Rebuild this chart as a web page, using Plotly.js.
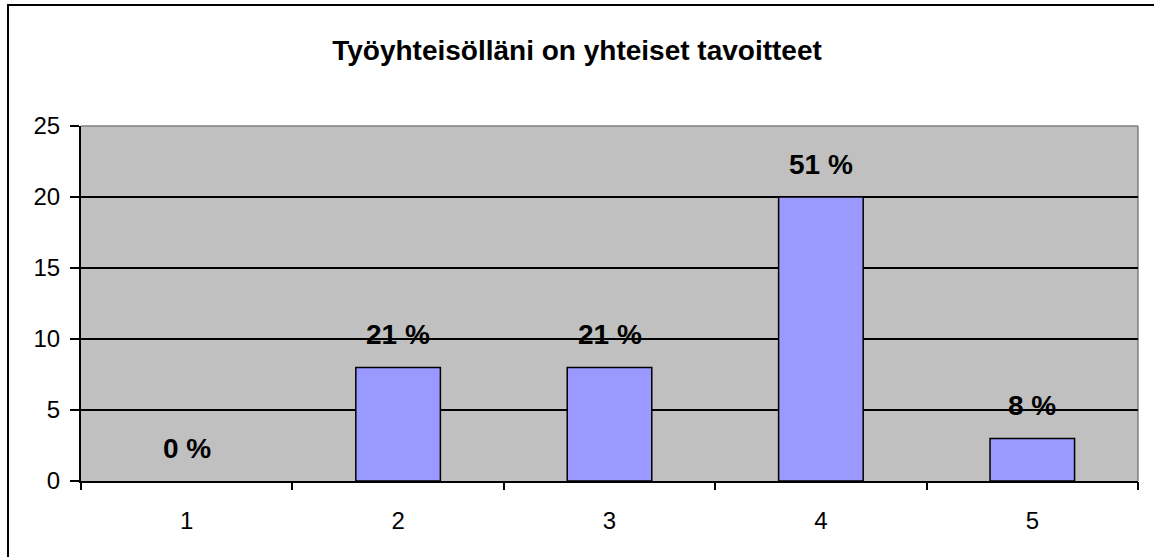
<!DOCTYPE html>
<html>
<head>
<meta charset="utf-8">
<script src="https://cdn.plot.ly/plotly-3.0.1.min.js"></script>
<style>
  html, body { margin: 0; padding: 0; background: #fff; }
  #wrap { position: relative; width: 1154px; height: 557px; overflow: hidden; }
  #chart { position: absolute; left: 0; top: 0; width: 1154px; height: 557px; }
  #frame { position: absolute; left: 7px; top: 4px; width: 1200px; height: 600px;
           border: 2px solid #000; pointer-events: none; }
</style>
</head>
<body>
<div id="wrap">
  <div id="chart"></div>
  <div id="frame"></div>
</div>
<script>
const categories = ["1", "2", "3", "4", "5"];
const counts = [0, 8, 8, 20, 3];
const percentLabels = ["0 %", "21 %", "21 %", "51 %", "8 %"];
const titleText = "Työyhteisölläni on yhteiset tavoitteet";
const catPositions = [1, 2, 3, 4, 5];
const boundaryTicks = [0.5, 1.5, 2.5, 3.5, 4.5, 5.5];

const barTrace = {
  type: "bar",
  x: catPositions,
  y: counts,
  marker: { color: "#9999FF", line: { color: "#000000", width: counts.map(v => v > 0 ? 1.5 : 0) } },
  hoverinfo: "skip",
  showlegend: false
};

const tickTrace = {
  type: "scatter",
  mode: "markers",
  x: boundaryTicks,
  y: boundaryTicks.map(() => null),
  xaxis: "x2",
  yaxis: "y",
  showlegend: false,
  hoverinfo: "skip"
};

const font = "Liberation Sans, Arial, sans-serif";

const annotations = catPositions.map((c, i) => ({
  x: c, y: counts[i], xref: "x", yref: "y",
  text: "<b>" + percentLabels[i] + "</b>",
  showarrow: false,
  yanchor: "middle",
  yshift: 33,
  font: { family: font, size: 28, color: "#000" }
}));

const layout = {
  width: 1154, height: 557,
  margin: { l: 81, r: 16, t: 126, b: 76, pad: 0 },
  paper_bgcolor: "rgba(0,0,0,0)",
  plot_bgcolor: "#C0C0C0",
  title: {
    text: "<b>" + titleText + "</b>",
    font: { family: font, size: 28, color: "#000" },
    x: 0.5, xanchor: "center", xref: "container",
    y: 0.91, yanchor: "middle", yref: "container"
  },
  bargap: 0.6,
  xaxis: {
    range: [0.5, 5.5],
    tickmode: "array",
    tickvals: catPositions,
    ticktext: categories,
    ticks: "outside", ticklen: 17, tickcolor: "rgba(0,0,0,0)",
    showgrid: false, zeroline: false,
    showline: true, linecolor: "#000", linewidth: 2,
    tickfont: { family: font, size: 24, color: "#000" },
    fixedrange: true
  },
  xaxis2: {
    overlaying: "x", anchor: "y", side: "bottom",
    range: [0.5, 5.5],
    tickmode: "array", tickvals: boundaryTicks,
    ticks: "outside", ticklen: 8, tickwidth: 2, tickcolor: "#000",
    showticklabels: false, showgrid: false, zeroline: false, showline: false,
    fixedrange: true
  },
  yaxis: {
    range: [0, 25],
    tickmode: "array", tickvals: [0, 5, 10, 15, 20, 25],
    ticks: "outside", ticklen: 9, tickwidth: 2, tickcolor: "#000",
    ticklabelstandoff: 5,
    showgrid: true, gridcolor: "#000", gridwidth: 1.5,
    zeroline: false,
    showline: true, linecolor: "#000", linewidth: 2,
    tickfont: { family: font, size: 24, color: "#000" },
    fixedrange: true
  },
  shapes: [
    { type: "line", xref: "paper", yref: "paper", x0: 0, x1: 1, y0: 1, y1: 1,
      line: { color: "#808080", width: 1.5 }, layer: "below" },
    { type: "line", xref: "paper", yref: "paper", x0: 1, x1: 1, y0: 0, y1: 1,
      line: { color: "#808080", width: 1.5 }, layer: "below" }
  ],
  annotations: annotations
};

Plotly.newPlot("chart", [barTrace, tickTrace], layout, { staticPlot: true, displayModeBar: false });
</script>
</body>
</html>
